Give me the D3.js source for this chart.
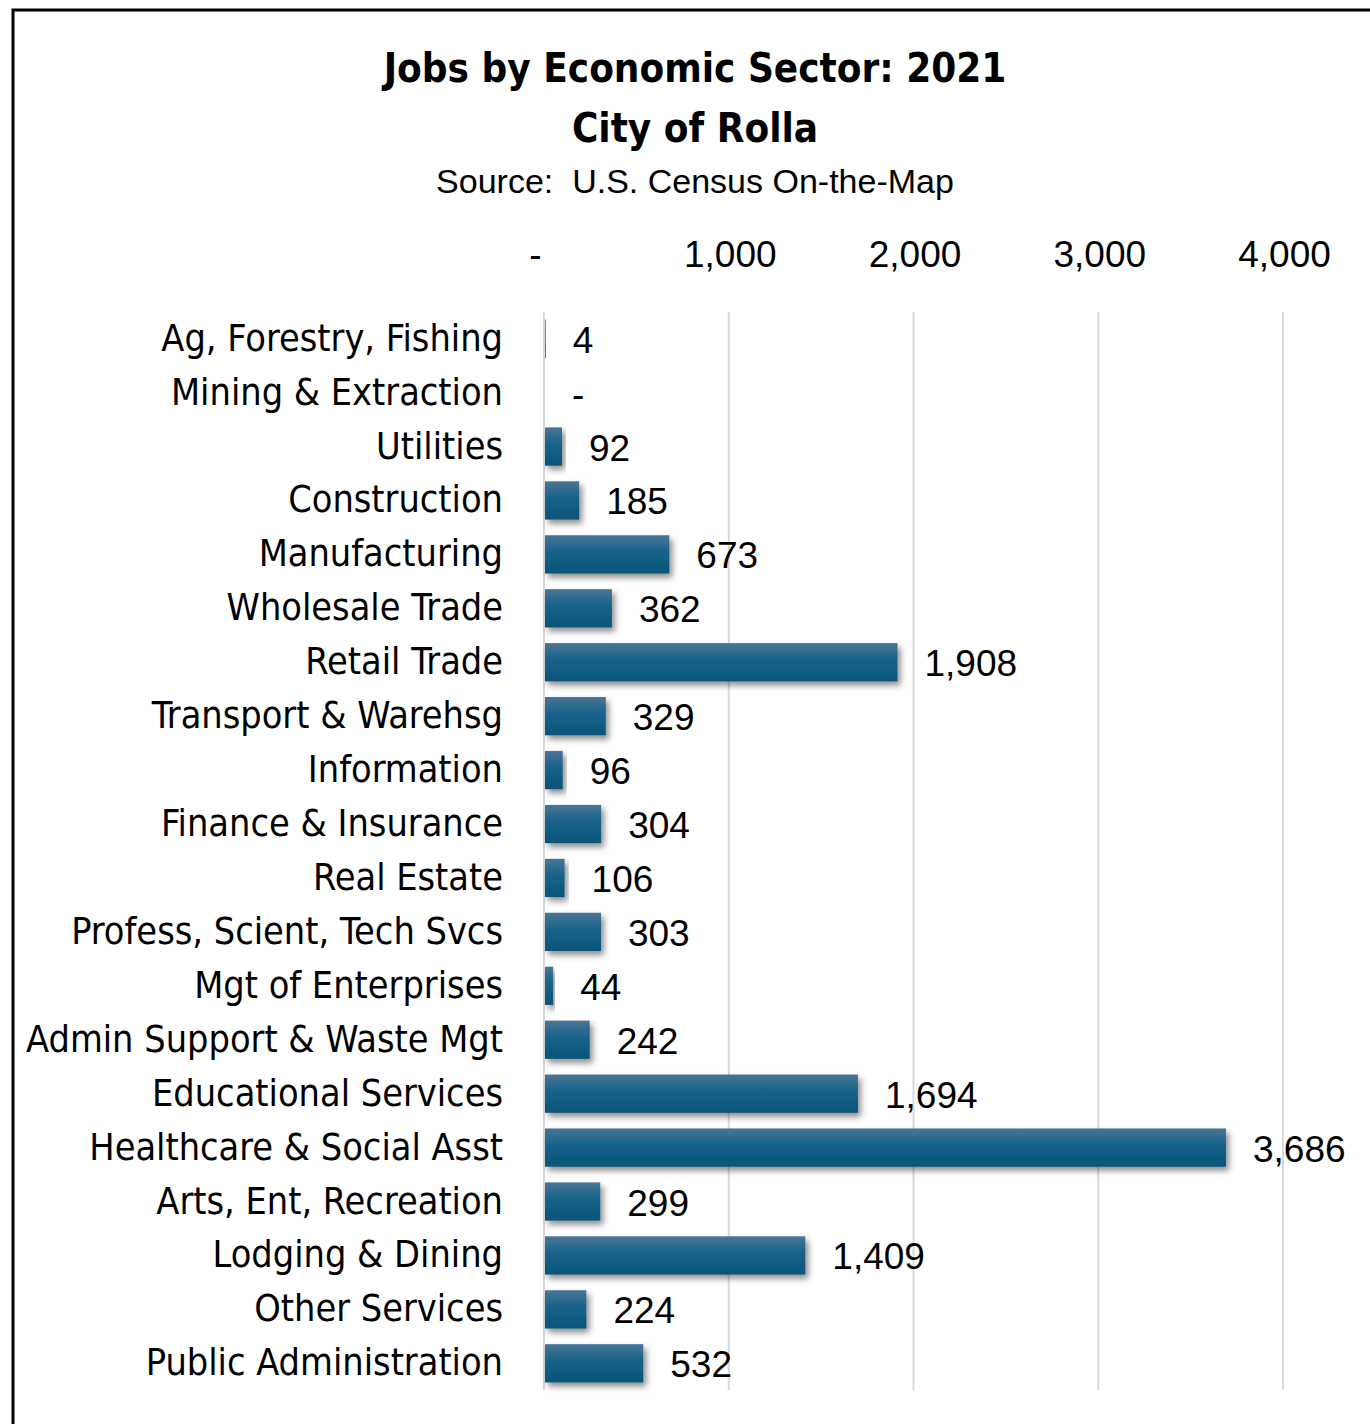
<!DOCTYPE html>
<html>
<head>
<meta charset="utf-8">
<script src="https://cdn.jsdelivr.net/npm/d3@7"></script>
<style>
body { margin: 0; background: #fff; }
svg text { fill: #000; }
</style>
</head>
<body>
<svg id="chart" width="1370" height="1424"></svg>
<script>
// Jobs by sector
var sectors = ["Ag, Forestry, Fishing", "Mining & Extraction", "Utilities", "Construction",
    "Manufacturing", "Wholesale Trade", "Retail Trade", "Transport & Warehsg", "Information",
    "Finance & Insurance", "Real Estate", "Profess, Scient, Tech Svcs", "Mgt of Enterprises",
    "Admin Support & Waste Mgt", "Educational Services", "Healthcare & Social Asst",
    "Arts, Ent, Recreation", "Lodging & Dining", "Other Services", "Public Administration"];
var jobs = [4, 0, 92, 185, 673, 362, 1908, 329, 96, 304, 106, 303, 44, 242, 1694, 3686, 299, 1409, 224, 532];
var tickValues = [0, 1000, 2000, 3000, 4000];

var svg = d3.select("svg#chart");
var condensed = "'Liberation Sans Narrow', 'DejaVu Sans Condensed', sans-serif";
var plain = "'Liberation Sans', Arial, sans-serif";

// outer frame (runs off the right and bottom edges)
svg.append("rect").attr("x", 13).attr("y", 10).attr("width", 1400).attr("height", 1450)
    .attr("fill", "none").attr("stroke", "#000").attr("stroke-width", 3);

var defs = svg.append("defs");
var grad = defs.append("linearGradient").attr("id", "barGrad")
    .attr("x1", 0).attr("y1", 0).attr("x2", 0).attr("y2", 1);
grad.append("stop").attr("offset", "0%").attr("stop-color", "#4a7595");
grad.append("stop").attr("offset", "45%").attr("stop-color", "#16628a");
grad.append("stop").attr("offset", "100%").attr("stop-color", "#0b5478");
var shadow = defs.append("filter").attr("id", "shadow")
    .attr("x", "-10%").attr("y", "-30%").attr("width", "130%").attr("height", "180%");
shadow.append("feDropShadow").attr("dx", 3).attr("dy", 4).attr("stdDeviation", 3)
    .attr("flood-color", "#000").attr("flood-opacity", 0.45);

var x = d3.scaleLinear().domain([0, 4000]).range([545, 1284]);
var y = d3.scaleBand().domain(sectors).range([312, 1390]).paddingInner(0.29).paddingOuter(0.14);

var fmt = function(v) { return v === 0 ? "-" : d3.format(",")(v); };

// title
svg.append("text").attr("x", 695).attr("y", 82).attr("text-anchor", "middle")
    .style("font-family", condensed)
    .style("font-weight", "bold").style("font-size", "40px").text("Jobs by Economic Sector: 2021");
svg.append("text").attr("x", 695).attr("y", 142).attr("text-anchor", "middle")
    .style("font-family", condensed)
    .style("font-weight", "bold").style("font-size", "40px").text("City of Rolla");
svg.append("text").attr("x", 695).attr("y", 193).attr("text-anchor", "middle")
    .style("font-family", plain).style("white-space", "pre")
    .style("font-size", "34px").text("Source:  U.S. Census On-the-Map");

// gridlines
svg.append("g").selectAll("line").data(tickValues).enter().append("line")
    .attr("x1", function(d) { return x(d) - 1; }).attr("x2", function(d) { return x(d) - 1; })
    .attr("y1", 312).attr("y2", 1390)
    .attr("stroke", "#d9d9d9").attr("stroke-width", 2);

// top axis
var axis = d3.axisTop(x).tickValues(tickValues).tickFormat(fmt).tickSize(0);
var axisG = svg.append("g").attr("transform", "translate(0,270)").call(axis);
axisG.select(".domain").remove();
axisG.selectAll("text").style("font-family", plain)
    .style("font-size", "37px").attr("fill", "#000").attr("dy", 0);
axisG.selectAll(".tick").filter(function(d) { return d === 0; }).select("text").attr("dx", -10);

// bars
svg.append("g").selectAll("rect").data(jobs).enter().append("rect")
    .attr("x", x(0))
    .attr("y", function(d, i) { return y(sectors[i]); })
    .attr("width", function(d) { return x(d) - x(0); })
    .attr("height", y.bandwidth())
    .attr("fill", "url(#barGrad)")
    .attr("filter", "url(#shadow)");

// value labels
svg.append("g").selectAll("text").data(jobs).enter().append("text")
    .attr("x", function(d) { return x(d) + 27; })
    .attr("y", function(d, i) { return y(sectors[i]) + y.bandwidth() / 2 + 14; })
    .style("font-family", plain)
    .style("font-size", "37px")
    .text(fmt);

// category labels
svg.append("g").selectAll("text").data(sectors).enter().append("text")
    .attr("x", 503).attr("text-anchor", "end")
    .attr("y", function(d) { return y(d) + y.bandwidth() / 2 + 12; })
    .style("font-family", condensed)
    .style("font-size", "37.5px")
    .text(function(d) { return d; });
</script>
</body>
</html>
